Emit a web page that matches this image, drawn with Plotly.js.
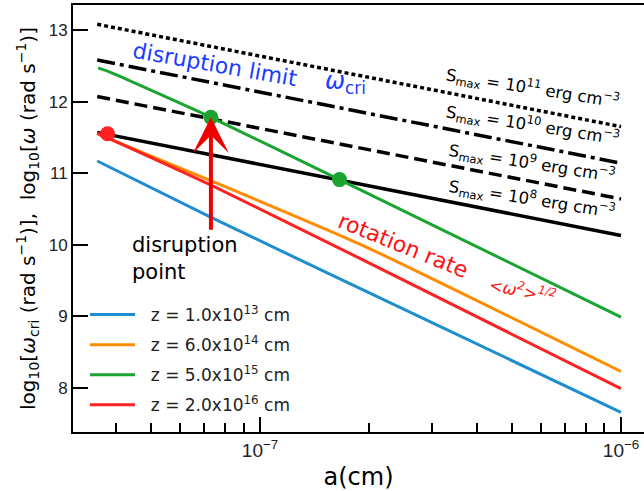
<!DOCTYPE html>
<html>
<head>
<meta charset="utf-8">
<script src="https://cdn.plot.ly/plotly-3.0.1.min.js"></script>
<style>html,body{margin:0;padding:0;background:#fff}#chart{width:644px;height:491px}</style>
</head>
<body>
<div id="chart"></div>
<script>
// ---- data ----
// rotation rate <w^2>^(1/2) for four distances z
const legendNames = ["&nbsp;&nbsp;z = 1.0x10<sup>13</sup> cm", "&nbsp;&nbsp;z = 6.0x10<sup>14</sup> cm", "&nbsp;&nbsp;z = 5.0x10<sup>15</sup> cm", "&nbsp;&nbsp;z = 2.0x10<sup>16</sup> cm"];
const aBlue   = [3.54e-8, 7.27e-8, 1.89e-7, 1e-6];
const wBlue   = [11.17, 10.39, 9.39, 7.66];
const aOrange = [3.54e-8, 7.27e-8, 1.89e-7, 1e-6];
const wOrange = [11.55, 10.90, 10.01, 8.23];
const aGreen  = [3.56e-8, 3.84e-8, 7.31e-8, 1.66e-7, 1e-6];
const wGreen  = [12.47, 12.41, 11.78, 10.91, 8.99];
const aRed    = [3.54e-8, 7.27e-8, 1.89e-7, 1e-6];
const wRed    = [11.56, 10.84, 9.81, 7.99];
// disruption limit w_cri for S_max = 1e8..1e11 erg cm^-3
const aLimit  = [3.54e-8, 1e-6];
const wS8     = [11.57, 10.13];
const wS9     = [12.07, 10.64];
const wS10    = [12.58, 11.14];
const wS11    = [13.08, 11.65];
const limitLabels = ["S<sub>max</sub> = 10<sup>11</sup> erg cm<sup>\u22123</sup>",
                     "S<sub>max</sub> = 10<sup>10</sup> erg cm<sup>\u22123</sup>",
                     "S<sub>max</sub> = 10<sup>9</sup> erg cm<sup>\u22123</sup>",
                     "S<sub>max</sub> = 10<sup>8</sup> erg cm<sup>\u22123</sup>"];
// disruption points
const aDisr = [3.78e-8, 7.31e-8, 1.66e-7];
const wDisr = [11.55, 11.78, 10.91];
// ticks
const xMajorVals = [1e-7, 1e-6];
const xMajorText = ["10<sup>\u22127</sup>", "10<sup>\u22126</sup>"];
const xMinorVals = [4e-8,5e-8,6e-8,7e-8,8e-8,9e-8,2e-7,3e-7,4e-7,5e-7,6e-7,7e-7,8e-7,9e-7];
const yTickVals = [8, 9, 10, 11, 12, 13];

// ---- styling ----
const cBlue = "#1f8ece", cOrange = "#ff8c00", cGreen = "#1aa531", cRed = "#ff2222";
const W = 644, H = 491, mL = 73, mR = 0, mT = 5, mB = 59;
const pw = W - mL - mR, ph = H - mT - mB;
const px = x => (x - mL) / pw;
const py = y => (H - mB - y) / ph;
const dejavu = "DejaVu Sans";

function blackLine(y, dash) {
  return {x: aLimit, y: y, mode: "lines", showlegend: false, hoverinfo: "skip",
          line: {color: "#000", width: 3.5, dash: dash}};
}
function colLine(x, y, c, name, g) {
  return {x: x, y: y, mode: "lines", name: name, legendgroup: g,
          line: {color: c, width: 3, shape: "spline", smoothing: 0.5}};
}

const traces = [
  blackLine(wS8, "solid"),
  blackLine(wS9, "13px,6px"),
  blackLine(wS10, "18px,5px,4px,5px"),
  blackLine(wS11, "4px,3px"),
  colLine(aBlue, wBlue, cBlue, legendNames[0], "g1"),
  colLine(aOrange, wOrange, cOrange, legendNames[1], "g2"),
  colLine(aGreen, wGreen, cGreen, legendNames[2], "g3"),
  colLine(aRed, wRed, cRed, legendNames[3], "g4"),
  {x: aDisr, y: wDisr, mode: "markers", showlegend: false, hoverinfo: "skip",
   marker: {size: 15, color: [cRed, cGreen, cGreen]}}
];

const ann = [];
function txt(x, y, text, size, color, angle, extra) {
  ann.push(Object.assign({xref: "paper", yref: "paper", x: px(x), y: py(y), text: text,
    showarrow: false, textangle: angle, xanchor: "center", yanchor: "middle",
    font: {family: dejavu, size: size, color: color}}, extra || {}));
}
txt(215, 64, "disruption limit", 22, "#1a3cff", 10);
txt(345, 83, "<i>\u03c9</i><sub>cri</sub>", 24, "#1a3cff", 0);
const labelY = [88, 125, 163, 199];
labelY.forEach((y, i) => txt(532, y, limitLabels[i], 16.5, "#000", 9));
txt(403, 246, "rotation rate", 22, "#ff1111", 22);
txt(522, 290, "<i>&lt;\u03c9<sup>2</sup>&gt;<sup>1/2</sup></i>", 16.5, "#ff1111", 12);
txt(130, 258, "disruption<br>point", 21, "#000", 0, {xanchor: "left", align: "left"});
// arrow to the disruption point
ann.push({xref: "x", yref: "y", x: Math.log10(aDisr[1]), y: wDisr[1], ax: 0, ay: 114,
  showarrow: true, arrowhead: 3, arrowsize: 1.5, arrowwidth: 4, arrowcolor: "#ee0000",
  standoff: 0, text: ""});

const layout = {
  width: W, height: H,
  margin: {l: mL, r: mR, t: mT, b: mB},
  paper_bgcolor: "#fff", plot_bgcolor: "#fff",
  showlegend: true,
  legend: {x: px(85), y: py(297), xanchor: "left", yanchor: "top",
           bgcolor: "rgba(0,0,0,0)", font: {family: dejavu, size: 17, color: "#222"},
           traceorder: "grouped", tracegroupgap: 5, itemwidth: 45},
  xaxis: {type: "log", range: [Math.log10(3.033e-8), Math.log10(1.158e-6)],
          showline: true, linecolor: "#000", linewidth: 2, mirror: true,
          showgrid: false, zeroline: false,
          tickmode: "array", tickvals: xMajorVals, ticktext: xMajorText,
          ticks: "inside", ticklen: 15, tickwidth: 2, tickcolor: "#000",
          tickfont: {family: "Liberation Sans", size: 19, color: "#222"},
          minor: {tickmode: "array", tickvals: xMinorVals, ticks: "inside", ticklen: 9, tickwidth: 2, tickcolor: "#000", showgrid: false},
          title: {text: "a(cm)", font: {family: dejavu, size: 24, color: "#000"}, standoff: 10}},
  yaxis: {range: [7.385, 13.349],
          showline: true, linecolor: "#000", linewidth: 2, mirror: false,
          showgrid: false, zeroline: false,
          tickmode: "array", tickvals: yTickVals,
          ticks: "inside", ticklen: 15, tickwidth: 2, tickcolor: "#000",
          tickfont: {family: "Liberation Sans", size: 17, color: "#222"},
          title: {text: "log<sub>10</sub>[<i>\u03c9</i><sub>cri</sub> (rad s<sup>\u22121</sup>)],  log<sub>10</sub>[<i>\u03c9</i> (rad s<sup>\u22121</sup>)]",
                  font: {family: dejavu, size: 20, color: "#000"}, standoff: 8}},
  annotations: ann
};

Plotly.newPlot("chart", traces, layout, {displayModeBar: false, staticPlot: true});
</script>
</body>
</html>
